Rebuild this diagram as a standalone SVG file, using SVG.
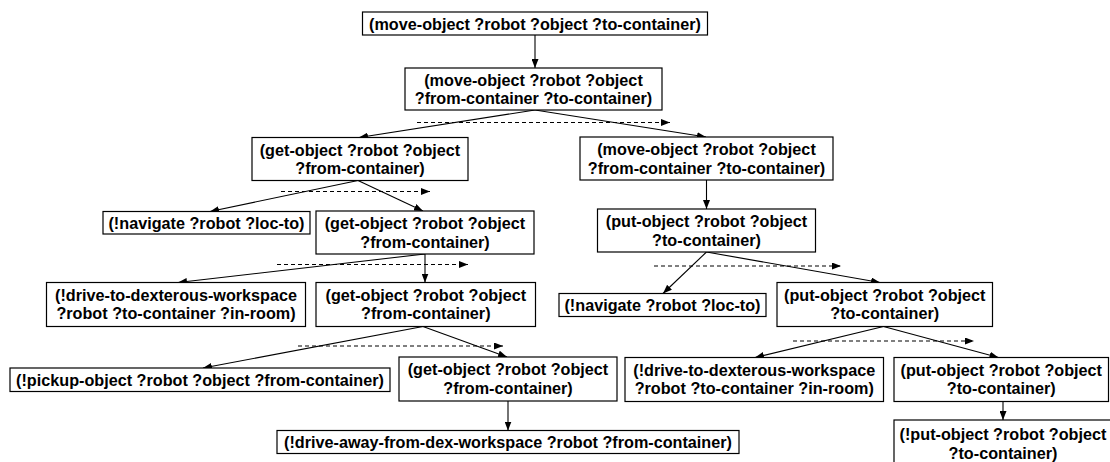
<svg xmlns="http://www.w3.org/2000/svg" width="1110" height="462" viewBox="0 0 1110 462">
  <style>
    .box { fill: #ffffff; stroke: #000000; stroke-width: 1.2; }
    .lbl { font-family: "Liberation Sans", Arial, Helvetica, sans-serif; font-weight: bold; font-size: 16.2px; fill: #000000; text-anchor: middle; }
    .edge { fill: none; stroke: #000000; stroke-width: 1.1; }
    .order { fill: none; stroke: #000000; stroke-width: 1.1; stroke-dasharray: 4 3; }
  </style>
  <defs>
    <marker id="arrow" markerUnits="userSpaceOnUse" markerWidth="9" markerHeight="7" refX="9" refY="3.5" orient="auto">
      <path d="M0,0 L9,3.5 L0,7 z" fill="#000000"/>
    </marker>
  </defs>
  <rect width="1110" height="462" fill="#ffffff"/>

  <!-- connectors: solid = decomposition, dashed = left-to-right ordering -->
  <g id="connectors">
    <line class="edge" x1="535" y1="35" x2="535" y2="68" marker-end="url(#arrow)"/>
    <line class="edge" x1="535" y1="110" x2="359" y2="137.5" marker-end="url(#arrow)"/>
    <line class="edge" x1="535" y1="110" x2="706" y2="137" marker-end="url(#arrow)"/>
    <line class="order" x1="417" y1="122.5" x2="670" y2="122.5" marker-end="url(#arrow)"/>

    <line class="edge" x1="358" y1="180.5" x2="210" y2="211.5" marker-end="url(#arrow)"/>
    <line class="edge" x1="358" y1="180.5" x2="423" y2="211" marker-end="url(#arrow)"/>
    <line class="order" x1="281" y1="191.5" x2="430" y2="191.5" marker-end="url(#arrow)"/>

    <line class="edge" x1="706.5" y1="180" x2="706.5" y2="209" marker-end="url(#arrow)"/>

    <line class="edge" x1="425" y1="254" x2="178" y2="282.5" marker-end="url(#arrow)"/>
    <line class="edge" x1="425" y1="254" x2="425" y2="282.5" marker-end="url(#arrow)"/>
    <line class="order" x1="277" y1="264.5" x2="468" y2="264.5" marker-end="url(#arrow)"/>

    <line class="edge" x1="706.5" y1="252" x2="663" y2="293.5" marker-end="url(#arrow)"/>
    <line class="edge" x1="706.5" y1="252" x2="880" y2="282.5" marker-end="url(#arrow)"/>
    <line class="order" x1="654" y1="266" x2="841" y2="266" marker-end="url(#arrow)"/>

    <line class="edge" x1="423" y1="326.5" x2="203" y2="368" marker-end="url(#arrow)"/>
    <line class="edge" x1="423" y1="326.5" x2="507" y2="357" marker-end="url(#arrow)"/>
    <line class="order" x1="298" y1="346" x2="503" y2="346" marker-end="url(#arrow)"/>

    <line class="edge" x1="883.5" y1="326.5" x2="755" y2="357.5" marker-end="url(#arrow)"/>
    <line class="edge" x1="883.5" y1="326.5" x2="998.5" y2="357.5" marker-end="url(#arrow)"/>
    <line class="order" x1="793" y1="341" x2="974" y2="341" marker-end="url(#arrow)"/>

    <line class="edge" x1="508" y1="401" x2="508" y2="430.5" marker-end="url(#arrow)"/>
    <line class="edge" x1="1003" y1="401.5" x2="1003" y2="420" marker-end="url(#arrow)"/>
  </g>

  <g id="n1">
    <rect class="box" x="362.5" y="12" width="345" height="23"/>
    <text class="lbl" x="535" y="29.5">(move-object ?robot ?object ?to-container)</text>
  </g>
  <g id="n2">
    <rect class="box" x="405" y="68" width="257" height="42"/>
    <text class="lbl" x="533.5" y="85.5">(move-object ?robot ?object</text>
    <text class="lbl" x="533.5" y="104">?from-container ?to-container)</text>
  </g>
  <g id="n3">
    <rect class="box" x="252" y="137.5" width="216" height="43"/>
    <text class="lbl" x="360" y="155.5">(get-object ?robot ?object</text>
    <text class="lbl" x="360" y="174">?from-container)</text>
  </g>
  <g id="n4">
    <rect class="box" x="580" y="137" width="253" height="43"/>
    <text class="lbl" x="706.5" y="155">(move-object ?robot ?object</text>
    <text class="lbl" x="706.5" y="173.5">?from-container ?to-container)</text>
  </g>
  <g id="n5">
    <rect class="box" x="103" y="211.5" width="207" height="22.5"/>
    <text class="lbl" x="206.5" y="229">(!navigate ?robot ?loc-to)</text>
  </g>
  <g id="n6">
    <rect class="box" x="316" y="211" width="218" height="43"/>
    <text class="lbl" x="425" y="229">(get-object ?robot ?object</text>
    <text class="lbl" x="425" y="247.5">?from-container)</text>
  </g>
  <g id="n7">
    <rect class="box" x="597.5" y="209" width="218" height="43"/>
    <text class="lbl" x="706.5" y="227">(put-object ?robot ?object</text>
    <text class="lbl" x="706.5" y="245.5">?to-container)</text>
  </g>
  <g id="n8">
    <rect class="box" x="46.5" y="282.5" width="259" height="44"/>
    <text class="lbl" x="176" y="300.5">(!drive-to-dexterous-workspace</text>
    <text class="lbl" x="176" y="319">?robot ?to-container ?in-room)</text>
  </g>
  <g id="n9">
    <rect class="box" x="316" y="282.5" width="219.5" height="44"/>
    <text class="lbl" x="425.8" y="300.5">(get-object ?robot ?object</text>
    <text class="lbl" x="425.8" y="319">?from-container)</text>
  </g>
  <g id="n10">
    <rect class="box" x="559" y="293.5" width="207" height="23"/>
    <text class="lbl" x="662.5" y="310.5">(!navigate ?robot ?loc-to)</text>
  </g>
  <g id="n11">
    <rect class="box" x="777" y="282.5" width="215.5" height="44"/>
    <text class="lbl" x="884.75" y="300.5">(put-object ?robot ?object</text>
    <text class="lbl" x="884.75" y="319">?to-container)</text>
  </g>
  <g id="n12">
    <rect class="box" x="10" y="368" width="380" height="23.5"/>
    <text class="lbl" x="200" y="385.5">(!pickup-object ?robot ?object ?from-container)</text>
  </g>
  <g id="n13">
    <rect class="box" x="399" y="357" width="218" height="44"/>
    <text class="lbl" x="508" y="375">(get-object ?robot ?object</text>
    <text class="lbl" x="508" y="393.5">?from-container)</text>
  </g>
  <g id="n14">
    <rect class="box" x="625" y="357.5" width="258.5" height="44"/>
    <text class="lbl" x="754.25" y="375.5">(!drive-to-dexterous-workspace</text>
    <text class="lbl" x="754.25" y="394">?robot ?to-container ?in-room)</text>
  </g>
  <g id="n15">
    <rect class="box" x="894" y="357.5" width="214.5" height="44"/>
    <text class="lbl" x="1001.25" y="375.5">(put-object ?robot ?object</text>
    <text class="lbl" x="1001.25" y="394">?to-container)</text>
  </g>
  <g id="n16">
    <rect class="box" x="277" y="430.5" width="462" height="23"/>
    <text class="lbl" x="508" y="447.5">(!drive-away-from-dex-workspace ?robot ?from-container)</text>
  </g>
  <g id="n17">
    <rect class="box" x="894" y="420" width="222" height="44"/>
    <text class="lbl" x="1003" y="440">(!put-object ?robot ?object</text>
    <text class="lbl" x="1003" y="458.5">?to-container)</text>
  </g>
</svg>
